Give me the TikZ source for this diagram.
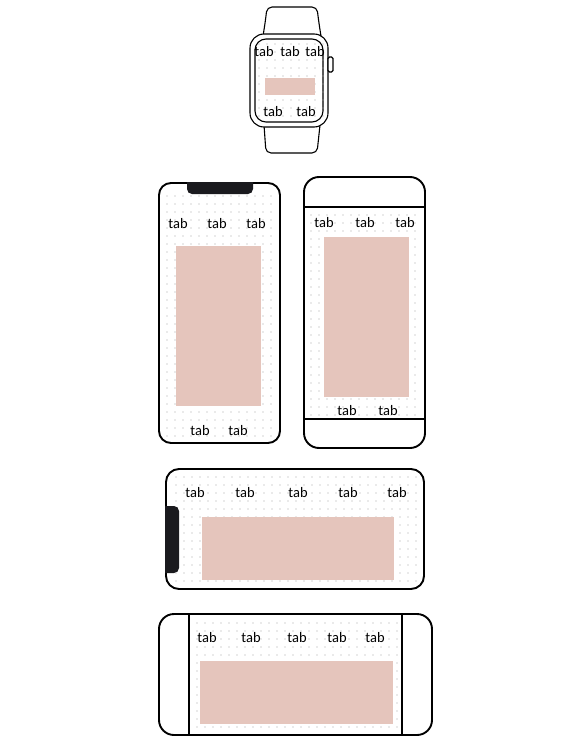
\documentclass[tikz,border=0pt]{standalone}
\usepackage{fontspec}
\setmainfont{Carlito}
\definecolor{pinkfill}{RGB}{229,197,188}
\definecolor{notchc}{RGB}{26,26,30}
\definecolor{dotc}{RGB}{165,165,165}
\newcommand\dotgrid[4]{\foreach \i in {0,...,#3}{\foreach \j in {0,...,#4}{\fill[dotc] ({#1+\i*8},{#2+\j*8}) circle (0.55pt);}}}
\tikzset{
  frame/.style={draw=black, line width=1.9pt},
  thinframe/.style={draw=black, line width=1.1pt},
  divider/.style={draw=black, line width=1.3pt},
  pinkbox/.style={fill=pinkfill, draw=none},
  tabtext/.style={font=\fontsize{14.5}{16}\selectfont, inner sep=0pt, text=black},
}
\begin{document}
\begin{tikzpicture}[x=1pt,y=-1pt]
\useasboundingbox[fill=white] (0,0) rectangle (564,752);

%% ---------------- Watch ----------------
\draw[thinframe, rounded corners=5pt] (263,36) .. controls (265,24) and (266,16) .. (267,7) -- (317,7) .. controls (318,16) and (319,24) .. (321,36);
\draw[thinframe, rounded corners=5pt] (264,125) -- (266,153) -- (317,153) -- (320,125);
\draw[thinframe, fill=white, rounded corners=14pt] (250,34) rectangle (328,127);
\draw[thinframe, rounded corners=11pt] (255,39) rectangle (323,122);
\draw[thinframe, fill=white, rounded corners=1.5pt] (328,57) rectangle (333,72);
\dotgrid{259}{44}{8}{9}
\node[pinkbox, minimum width=50pt, minimum height=17pt, anchor=north west] (wpink) at (265,78) {};
\node[tabtext] (wt1) at (264,52) {tab};
\node[tabtext] (wt2) at (290,52) {tab};
\node[tabtext] (wt3) at (315,52) {tab};
\node[tabtext] (wb1) at (273,112) {tab};
\node[tabtext] (wb2) at (306,112) {tab};

%% ---------------- Phone 1 (notch, portrait) ----------------
\dotgrid{167}{196}{13}{30}
\draw[frame, rounded corners=12pt] (159,183) rectangle (280,443);
\fill[notchc] (187,182) [rounded corners=5pt] -- (187,194) -- (253,194) [sharp corners] -- (253,182) -- cycle;
\node[pinkbox, minimum width=85pt, minimum height=160pt, anchor=north west] (p1pink) at (176,246) {};
\node[tabtext] (p1t1) at (178,224) {tab};
\node[tabtext] (p1t2) at (217,224) {tab};
\node[tabtext] (p1t3) at (256,224) {tab};
\node[tabtext] (p1b1) at (200,431) {tab};
\node[tabtext] (p1b2) at (238,431) {tab};

%% ---------------- Phone 2 (home button, portrait) ----------------
\dotgrid{311}{215}{13}{25}
\draw[frame, rounded corners=15pt] (304,177) rectangle (425,448);
\draw[divider] (304,207) -- (425,207);
\draw[divider] (304,419) -- (425,419);
\node[pinkbox, minimum width=85pt, minimum height=160pt, anchor=north west] (p2pink) at (324,237) {};
\node[tabtext] (p2t1) at (324,223) {tab};
\node[tabtext] (p2t2) at (365,223) {tab};
\node[tabtext] (p2t3) at (405,223) {tab};
\node[tabtext] (p2b1) at (347,411) {tab};
\node[tabtext] (p2b2) at (388,411) {tab};

%% ---------------- Phone 3 (notch, landscape) ----------------
\dotgrid{176}{477}{30}{13}
\draw[frame, rounded corners=13pt] (166,469) rectangle (424,589);
\fill[notchc] (165,506) [rounded corners=5pt] -- (179,506) -- (179,573) [sharp corners] -- (165,573) -- cycle;
\node[pinkbox, minimum width=192pt, minimum height=63pt, anchor=north west] (p3pink) at (202,517) {};
\node[tabtext] (p3t1) at (195,493) {tab};
\node[tabtext] (p3t2) at (245,493) {tab};
\node[tabtext] (p3t3) at (298,493) {tab};
\node[tabtext] (p3t4) at (348,493) {tab};
\node[tabtext] (p3t5) at (397,493) {tab};

%% ---------------- Phone 4 (home button, landscape) ----------------
\dotgrid{197}{623}{25}{13}
\draw[frame, rounded corners=15pt] (159,614) rectangle (432,735);
\draw[divider] (189,614) -- (189,735);
\draw[divider] (402,614) -- (402,735);
\node[pinkbox, minimum width=193pt, minimum height=63pt, anchor=north west] (p4pink) at (200,661) {};
\node[tabtext] (p4t1) at (207,638) {tab};
\node[tabtext] (p4t2) at (251,638) {tab};
\node[tabtext] (p4t3) at (297,638) {tab};
\node[tabtext] (p4t4) at (337,638) {tab};
\node[tabtext] (p4t5) at (375,638) {tab};
\end{tikzpicture}
\end{document}
